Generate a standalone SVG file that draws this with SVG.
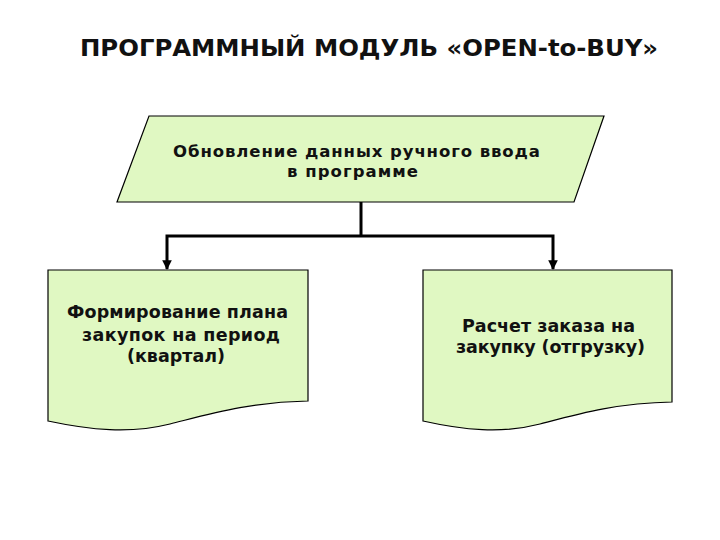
<svg xmlns="http://www.w3.org/2000/svg" width="720" height="540" viewBox="0 0 720 540">
<defs>
<style>
.node{fill:#e0f8c2;stroke:#000;stroke-width:1.2}
.t{font-family:"DejaVu Sans",Verdana,sans-serif;font-weight:bold;fill:#111;text-anchor:middle}
.c{fill:none;stroke:#000;stroke-width:3}
</style>
<marker id="ah" viewBox="0 0 10 10" refX="9" refY="5" markerWidth="3.2" markerHeight="3.2" orient="auto" markerUnits="strokeWidth">
<path d="M0,0 L10,5 L0,10 z" fill="#000"/>
</marker>
</defs>
<rect width="720" height="540" fill="#fff"/>
<text class="t" x="369" y="56" font-size="23.5" textLength="578" lengthAdjust="spacingAndGlyphs">ПРОГРАММНЫЙ МОДУЛЬ «OPEN-to-BUY»</text>
<g id="input">
<polygon class="node" points="149,116 604,116 574,202 117,202"/>
<text class="t" x="356.5" y="157" font-size="16.5" textLength="367" lengthAdjust="spacing">Обновление данных ручного ввода</text>
<text class="t" x="352.5" y="177" font-size="16.5" textLength="131" lengthAdjust="spacing">в программе</text>
</g>
<g id="plan">
<path class="node" d="M48,270 L308,270 L308,401 C250,402 210,414 170,424 C130,434 90,430 48,421 Z"/>
<text class="t" x="177.5" y="318" font-size="17.5" textLength="221" lengthAdjust="spacing">Формирование плана</text>
<text class="t" x="181" y="341" font-size="17.5" textLength="198" lengthAdjust="spacing">закупок на период</text>
<text class="t" x="176" y="362" font-size="17.5" textLength="98" lengthAdjust="spacing">(квартал)</text>
</g>
<g id="order">
<path class="node" d="M423,270 L672,270 L672,402 C616,403 578,414 540,424 C502,434 463,430 423,421 Z"/>
<text class="t" x="548.5" y="332" font-size="17.5" textLength="173" lengthAdjust="spacing">Расчет заказа на</text>
<text class="t" x="550.5" y="353" font-size="17.5" textLength="189" lengthAdjust="spacing">закупку (отгрузку)</text>
</g>
<g id="connectors">
<path class="c" d="M361,202 L361,236"/>
<path class="c" d="M361,236 L167,236 L167,269" marker-end="url(#ah)"/>
<path class="c" d="M361,236 L553,236 L553,269" marker-end="url(#ah)"/>
</g>
</svg>
